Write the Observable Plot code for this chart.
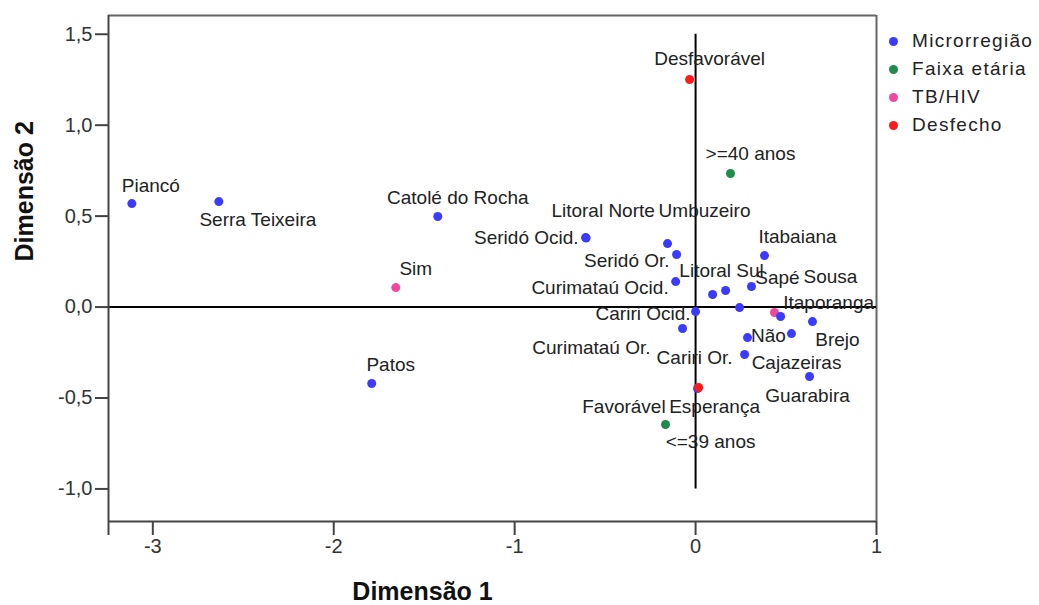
<!DOCTYPE html>
<html>
<head>
<meta charset="utf-8">
<script src="https://cdn.jsdelivr.net/npm/d3@7"></script>
<script src="https://cdn.jsdelivr.net/npm/@observablehq/plot@0.6"></script>
<style>
  html, body { margin: 0; padding: 0; background: #fff; }
  #wrap { position: relative; width: 1039px; height: 605px; font-family: "Liberation Sans", Arial, sans-serif; }
  #legend { position: absolute; left: 889px; top: 27px; color: #222; font-size: 19px; letter-spacing: 1.3px; }
  #legend .row { height: 28px; line-height: 28px; display: flex; align-items: center; white-space: nowrap; }
  #legend .sw { width: 9px; height: 9px; border-radius: 50%; margin-right: 14px; flex: none; }
</style>
</head>
<body>
<div id="wrap"><div id="chart"></div><div id="legend"></div></div>
<script>
// ---- Data ----
const groupNames = ["Microrregião", "Faixa etária", "TB/HIV", "Desfecho"];

const microNames = ["Piancó", "Serra Teixeira", "Catolé do Rocha", "Patos", "Seridó Ocid.", "Litoral Norte",
  "Umbuzeiro", "Seridó Or.", "Curimataú Ocid.", "Cariri Ocid.", "Curimataú Or.", "Cariri Or.",
  "Itabaiana", "Litoral Sul", "Sapé", "Campina Grande", "João Pessoa", "Itaporanga", "Brejo",
  "Sousa", "Cajazeiras", "Guarabira", "Esperança"];
const microX = [-3.116, -2.635, -1.425, -1.790, -0.608, -0.605,
  -0.155, -0.105, -0.110, 0.000, -0.072, 0.271,
  0.381, 0.094, 0.309, 0.166, 0.243, 0.470, 0.646,
  0.530, 0.287, 0.630, 0.011];
const microY = [0.569, 0.580, 0.498, -0.420, 0.382, 0.380,
  0.349, 0.289, 0.140, -0.025, -0.118, -0.261,
  0.283, 0.069, 0.113, 0.091, -0.003, -0.052, -0.080,
  -0.146, -0.168, -0.382, -0.448];

const ageNames = [">=40 anos", "<=39 anos"];
const ageX = [0.193, -0.166];
const ageY = [0.734, -0.646];

const tbNames = ["Sim", "Não"];
const tbX = [-1.657, 0.436];
const tbY = [0.107, -0.030];

const outNames = ["Desfavorável", "Favorável"];
const outX = [-0.033, 0.017];
const outY = [1.251, -0.442];

const xTicks = [-3, -2, -1, 0, 1];
const yTicks = [-1.0, -0.5, 0.0, 0.5, 1.0, 1.5];

// ---- Styles ----
const groupColors = ["#3b3bff", "#1d8c4c", "#f0479f", "#ff1a1a"];
const xDomain = [-3.245, 1.0];
const yDomain = [-1.179, 1.603];
const FONT = "'Liberation Sans', Arial, sans-serif";
// label placement relative to its point: [dx px, dy px, anchor]
const labelPlacement = {
  "Piancó": [19, -18, "middle"], "Serra Teixeira": [39, 18, "middle"], "Catolé do Rocha": [20, -19, "middle"],
  "Patos": [19, -19, "middle"], "Seridó Ocid.": [-7, 0, "end"], "Litoral Norte": [17, -27, "middle"],
  "Umbuzeiro": [37, -33, "middle"], "Seridó Or.": [-7, 6, "end"], "Curimataú Ocid.": [-7, 6, "end"],
  "Cariri Ocid.": [-5, 2, "end"], "Curimataú Or.": [-32, 19, "end"], "Cariri Or.": [-12, 3, "end"],
  "Itabaiana": [33, -19, "middle"], "Litoral Sul": [9, -24, "middle"], "Sapé": [26, -9, "middle"],
  "Itaporanga": [48, -14, "middle"], "Brejo": [25, 18, "middle"], "Sousa": [39, -57, "middle"],
  "Cajazeiras": [49, 25, "middle"], "Guarabira": [-2, 19, "middle"], "Esperança": [17, 18, "middle"],
  "Sim": [20, -19, "middle"], "Não": [-6, 23, "middle"], "Desfavorável": [20, -21, "middle"],
  "Favorável": [-33, 19, "end"], ">=40 anos": [20, -20, "middle"], "<=39 anos": [45, 17, "middle"]
};
const hiddenLabels = new Set(["Campina Grande", "João Pessoa"]);

// ---- Table built from the arrays ----
const mk = (names, xs, ys, g) => names.map((n, i) => ({name: n, x: xs[i], y: ys[i], group: g}));
const rows = [
  ...mk(tbNames, tbX, tbY, groupNames[2]),
  ...mk(microNames, microX, microY, groupNames[0]),
  ...mk(outNames, outX, outY, groupNames[3]),
  ...mk(ageNames, ageX, ageY, groupNames[1])
];

const yFmt = d => d.toFixed(1).replace(".", ",");
const xAll = [xDomain[0], ...xTicks];
const xFmt = d => (d === xDomain[0] ? "" : String(d));

const labelMarks = rows.filter(r => !hiddenLabels.has(r.name)).map(r => {
  const p = labelPlacement[r.name] || [20, -19, "middle"];
  return Plot.text([r], {x: "x", y: "y", text: "name", dx: p[0], dy: p[1], textAnchor: p[2],
    lineAnchor: "middle", fontSize: 19, fill: "#222"});
});

const chart = Plot.plot({
  width: 1039, height: 605,
  marginLeft: 108, marginRight: 163, marginTop: 15, marginBottom: 84,
  style: {fontFamily: FONT, background: "#fff", color: "#222"},
  x: {domain: xDomain, label: null},
  y: {domain: yDomain, label: null},
  color: {domain: groupNames, range: groupColors},
  marks: [
    // frame: top & right
    Plot.ruleY([yDomain[1]], {stroke: "#666", strokeWidth: 2}),
    Plot.ruleX([xDomain[1]], {stroke: "#666", strokeWidth: 2}),
    // reference lines at 0
    Plot.ruleX([0], {y1: -1.0, y2: 1.5, stroke: "#000", strokeWidth: 2}),
    Plot.ruleY([0], {stroke: "#000", strokeWidth: 2}),
    // axes
    Plot.axisY(yTicks, {label: null, tickSize: 13, tickPadding: 3, tickFormat: yFmt, fontSize: 20, stroke: "#444", fill: "#333", strokeWidth: 2}),
    Plot.axisX(xAll, {label: null, tickSize: 14, tickPadding: 3, tickFormat: xFmt, fontSize: 20, stroke: "#444", fill: "#333", strokeWidth: 2}),
    Plot.ruleX([xDomain[0]], {stroke: "#444", strokeWidth: 2}),
    Plot.ruleY([yDomain[0]], {stroke: "#444", strokeWidth: 2}),
    // points
    Plot.dot(rows, {x: "x", y: "y", fill: "group", r: 4.5}),
    ...labelMarks,
    // axis titles
    Plot.text(["Dimensão 1"], {frameAnchor: "bottom", dx: -70, dy: 70, lineAnchor: "middle",
      fontSize: 25, fontWeight: "bold", fill: "#111"}),
    Plot.text(["Dimensão 2"], {frameAnchor: "left", rotate: -90, dx: -84, dy: -7, lineAnchor: "middle",
      fontSize: 25, fontWeight: "bold", fill: "#111"})
  ]
});
document.getElementById("chart").appendChild(chart);

// legend
const legend = document.getElementById("legend");
groupNames.forEach((g, i) => {
  const row = document.createElement("div");
  row.className = "row";
  const sw = document.createElement("span");
  sw.className = "sw";
  sw.style.background = groupColors[i];
  const t = document.createElement("span");
  t.textContent = g;
  row.appendChild(sw); row.appendChild(t);
  legend.appendChild(row);
});
</script>
</body>
</html>
